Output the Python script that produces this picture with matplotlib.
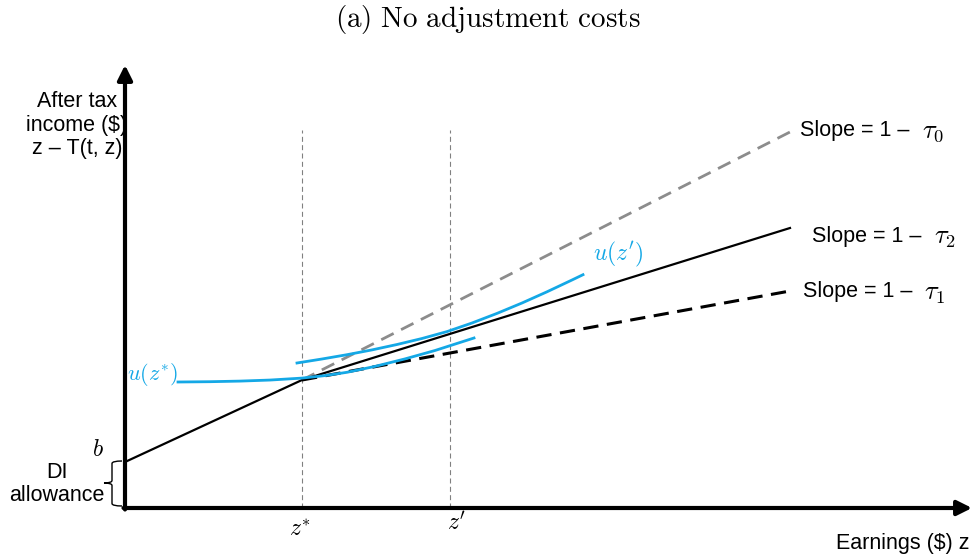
import matplotlib
matplotlib.use("Agg")
import matplotlib.pyplot as plt
from matplotlib.path import Path
from matplotlib.patches import PathPatch

plt.rcParams["font.family"] = ["Liberation Sans", "DejaVu Sans"]
plt.rcParams["mathtext.fontset"] = "cm"

# budget set (units: earnings on x, after-tax income on y)
B = 46                     # DI allowance intercept
Z_STAR, Y_STAR = 177, 128  # kink point
Z_PRIME = 325
Z_END = 665
Y_END_TAU2 = 280   # solid, slope 1 - tau2
Y_END_TAU0 = 376   # grey dashed, slope 1 - tau0
Y_END_TAU1 = 217   # black dashed, slope 1 - tau1
VLINE_TOP = 378

# indifference curves
U_STAR_X = [53, 85, 115, 145, 177, 200, 222, 250, 280, 310, 349]
U_STAR_Y = [126, 126.3, 126.9, 127.95, 129.9, 132.4, 135.7, 141.6, 149.1, 157.5, 170]
U_PRIME_X = [172, 197, 222, 247, 272, 297, 322, 347, 372, 397, 422, 447, 458]
U_PRIME_Y = [145, 149, 153.3, 158.1, 163.5, 169.5, 176.4, 185, 194.6, 205, 216.2, 228, 233.3]

SLOPE_LABELS = [r"$\tau_0$", r"$\tau_2$", r"$\tau_1$"]

BLUE = "#14a8e6"

fig = plt.figure(figsize=(9.76, 5.58), dpi=100)
ax = fig.add_axes([125 / 976, 50 / 558, 847 / 976, 443 / 558])
ax.set_xlim(0, 847)
ax.set_ylim(0, 443)
ax.axis("off")

# axes with arrows
ax.annotate("", xy=(0, 443), xytext=(0, -1.5),
            arrowprops=dict(arrowstyle="-|>", lw=3, color="k", mutation_scale=22,
                            shrinkA=0, shrinkB=0), annotation_clip=False)
ax.annotate("", xy=(847, 0), xytext=(-1.5, 0),
            arrowprops=dict(arrowstyle="-|>", lw=3, color="k", mutation_scale=22,
                            shrinkA=0, shrinkB=0), annotation_clip=False)

# vertical guides
for zx in (Z_STAR, Z_PRIME):
    ax.plot([zx, zx], [0, VLINE_TOP], color="#808080", lw=0.8,
            dashes=(4.5, 3), zorder=1)

# budget lines
ax.plot([0, Z_STAR, Z_END], [B, Y_STAR, Y_END_TAU2], color="k", lw=1.6, zorder=3)
ax.plot([Z_STAR, Z_END], [Y_STAR, Y_END_TAU0], color="#8c8c8c", lw=2,
        dashes=(5, 3), zorder=2)
ax.plot([Z_STAR, Z_END], [Y_STAR, Y_END_TAU1], color="k", lw=2.2,
        dashes=(5, 2.8), zorder=2)

# indifference curves
ax.plot(U_STAR_X, U_STAR_Y, color=BLUE, lw=2, zorder=4)
ax.plot(U_PRIME_X, U_PRIME_Y, color=BLUE, lw=2, zorder=4)

# brace for DI allowance
bx, sx, tx = -3, -13, -21
top, bot, mid = 47, 2, 25
verts = [(bx, top), (sx, top), (sx, top - 2.5),
         (sx, mid + 2.5), (sx, mid), (tx, mid),
         (sx, mid), (sx, mid - 2.5),
         (sx, bot + 2.5), (sx, bot), (bx, bot)]
codes = [Path.MOVETO, Path.CURVE3, Path.CURVE3,
         Path.LINETO, Path.CURVE3, Path.CURVE3,
         Path.CURVE3, Path.CURVE3,
         Path.LINETO, Path.CURVE3, Path.CURVE3]
ax.add_patch(PathPatch(Path(verts, codes), fill=False, lw=1, color="k",
                       clip_on=False))

# text
fig.text(0.5, 1 - 20 / 558, r"$\mathrm{(a)\ No\ adjustment\ costs}$",
         ha="center", va="center", fontsize=21)
ax.text(-48, 383, "After tax\nincome ($)\nz – T(t, z)", ha="center", va="center",
        fontsize=15.5, linespacing=1.15)
ax.text(-68, 24, "DI\nallowance", ha="center", va="center", fontsize=15.5,
        linespacing=1.1)
ax.text(-27, 58, "$b$", ha="center", va="center", fontsize=17)
ax.text(2, 133, "$u(z^{*})$", ha="left", va="center", fontsize=16, color=BLUE)
ax.text(468, 254, "$u(z')$", ha="left", va="center", fontsize=17, color=BLUE)

for (sx_, sy_, tx_), tau in zip([(675, 378, 797), (687, 272, 809), (678, 216, 799)],
                                SLOPE_LABELS):
    ax.text(sx_, sy_, "Slope = 1 –", ha="left", va="center", fontsize=15.5)
    ax.text(tx_, sy_ - 2, tau, ha="left", va="center", fontsize=19)

ax.text(Z_STAR - 2, -22, "$z^{*}$", ha="center", va="center", fontsize=17)
ax.text(Z_PRIME + 6, -15, "$z'$", ha="center", va="center", fontsize=17)
ax.text(845, -36, "Earnings ($) z", ha="right", va="center", fontsize=15.5)

fig.savefig("out.png", dpi=100)
